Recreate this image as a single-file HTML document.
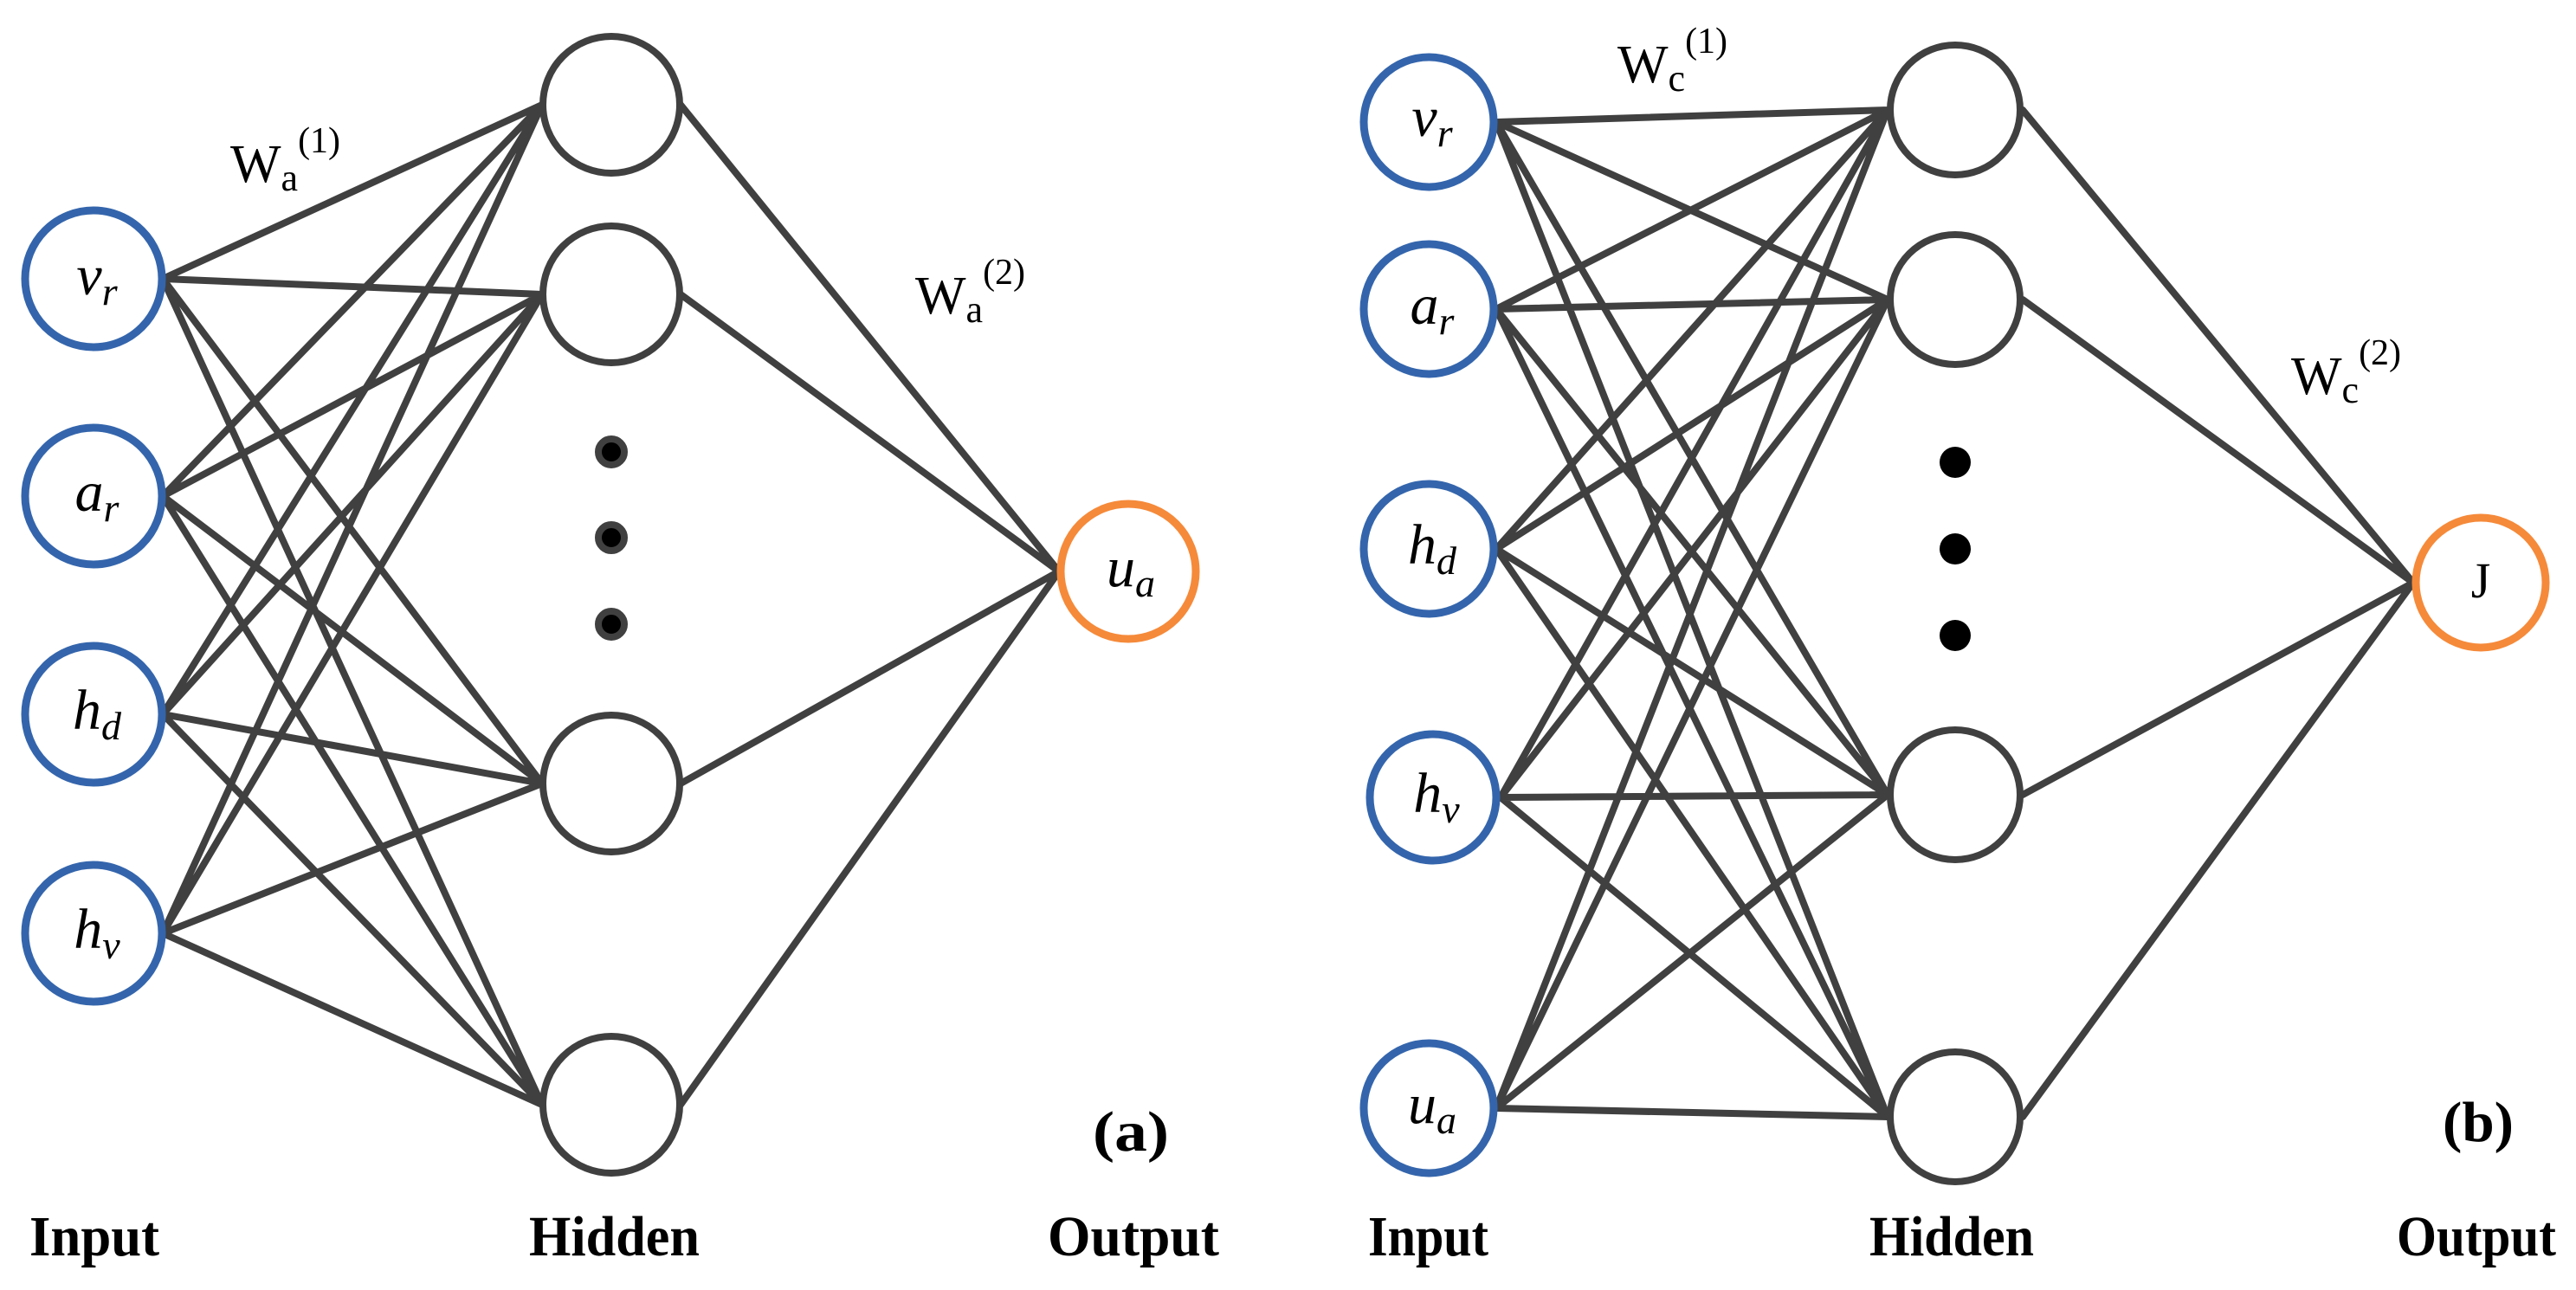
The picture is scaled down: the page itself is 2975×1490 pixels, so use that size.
<!DOCTYPE html>
<html><head><meta charset="utf-8"><style>
html,body{margin:0;padding:0;background:#fff;}
svg{display:block;}
</style></head><body>
<svg width="2975" height="1490" viewBox="0 0 2975 1490" xmlns="http://www.w3.org/2000/svg" font-family="'Liberation Serif', 'Times New Roman', 'DejaVu Serif', serif">
<g stroke="#404040" stroke-width="8" stroke-linecap="round" fill="none">
<path d="M188 322L626 121M188 322L626 340M188 322L626 905M188 322L626 1276
M188 573L626 121M188 573L626 340M188 573L626 905M188 573L626 1276
M188 825L626 121M188 825L626 340M188 825L626 905M188 825L626 1276
M188 1078L626 121M188 1078L626 340M188 1078L626 905M188 1078L626 1276"/>
<path d="M786 121L1223 660M786 340L1223 660M786 905L1223 660M786 1276L1223 660"/>
<path d="M1728 141L2180 127M1728 141L2180 346M1728 141L2180 918M1728 141L2180 1290
M1728 357L2180 127M1728 357L2180 346M1728 357L2180 918M1728 357L2180 1290
M1728 634L2180 127M1728 634L2180 346M1728 634L2180 918M1728 634L2180 1290
M1733 921L2180 127M1733 921L2180 346M1733 921L2180 918M1733 921L2180 1290
M1728 1280L2180 127M1728 1280L2180 346M1728 1280L2180 918M1728 1280L2180 1290"/>
<path d="M2336 127L2787 673M2336 346L2787 673M2336 918L2787 673M2336 1290L2787 673"/>
</g>
<g fill="#fff" stroke-width="9">
<circle cx="108" cy="322" r="79" stroke="#3465ac"/>
<circle cx="108" cy="573" r="79" stroke="#3465ac"/>
<circle cx="108" cy="825" r="79" stroke="#3465ac"/>
<circle cx="108" cy="1078" r="79" stroke="#3465ac"/>
<circle cx="706" cy="121" r="79" stroke="#404040" stroke-width="8"/>
<circle cx="706" cy="340" r="79" stroke="#404040" stroke-width="8"/>
<circle cx="706" cy="905" r="79" stroke="#404040" stroke-width="8"/>
<circle cx="706" cy="1276" r="79" stroke="#404040" stroke-width="8"/>
<circle cx="1303" cy="660" r="78" stroke="#f58a3a"/>
</g>
<g fill="#000" stroke="#404040" stroke-width="8">
<circle cx="706" cy="522" r="15"/><circle cx="706" cy="621" r="15"/><circle cx="706" cy="721" r="15"/>
</g>
<g fill="#fff" stroke-width="9">
<circle cx="1650" cy="141" r="75" stroke="#3465ac"/>
<circle cx="1650" cy="357" r="75" stroke="#3465ac"/>
<circle cx="1650" cy="634" r="75" stroke="#3465ac"/>
<circle cx="1655" cy="921" r="73" stroke="#3465ac"/>
<circle cx="1650" cy="1280" r="75" stroke="#3465ac"/>
<circle cx="2258" cy="127" r="75" stroke="#404040" stroke-width="8"/>
<circle cx="2258" cy="346" r="75" stroke="#404040" stroke-width="8"/>
<circle cx="2258" cy="918" r="75" stroke="#404040" stroke-width="8"/>
<circle cx="2258" cy="1290" r="75" stroke="#404040" stroke-width="8"/>
<circle cx="2865" cy="673" r="75" stroke="#f58a3a"/>
</g>
<g fill="#000">
<circle cx="2258" cy="534" r="18"/><circle cx="2258" cy="634" r="18"/><circle cx="2258" cy="734" r="18"/>
</g>
<g font-style="italic" font-size="66" text-anchor="middle" fill="#000">
<text x="112" y="340">v<tspan font-size="46" dy="12">r</tspan></text>
<text x="112" y="590">a<tspan font-size="46" dy="12">r</tspan></text>
<text x="112" y="842">h<tspan font-size="46" dy="12">d</tspan></text>
<text x="112" y="1095">h<tspan font-size="46" dy="12">v</tspan></text>
<text x="1306" y="677">u<tspan font-size="46" dy="12">a</tspan></text>
<text x="1654" y="157">v<tspan font-size="46" dy="12">r</tspan></text>
<text x="1654" y="374">a<tspan font-size="46" dy="12">r</tspan></text>
<text x="1654" y="651">h<tspan font-size="46" dy="12">d</tspan></text>
<text x="1659" y="938">h<tspan font-size="46" dy="12">v</tspan></text>
<text x="1654" y="1297">u<tspan font-size="46" dy="12">a</tspan></text>
</g>
<text x="2865" y="690" font-size="58" text-anchor="middle" fill="#000">J</text>
<g font-size="62" fill="#000">
<text x="266" y="210">W<tspan font-size="44" dy="10">a</tspan><tspan font-size="42" dy="-44">(1)</tspan></text>
<text x="1057" y="362">W<tspan font-size="44" dy="10">a</tspan><tspan font-size="42" dy="-44">(2)</tspan></text>
<text x="1868" y="95">W<tspan font-size="44" dy="10">c</tspan><tspan font-size="42" dy="-44">(1)</tspan></text>
<text x="2646" y="455">W<tspan font-size="44" dy="10">c</tspan><tspan font-size="42" dy="-44">(2)</tspan></text>
</g>
<g font-weight="bold" font-size="66" fill="#000" lengthAdjust="spacingAndGlyphs">
<text x="1262" y="1329" textLength="88" lengthAdjust="spacingAndGlyphs">(a)</text>
<text x="2821" y="1318" textLength="82" lengthAdjust="spacingAndGlyphs">(b)</text>
<text x="34" y="1450" textLength="150" lengthAdjust="spacingAndGlyphs">Input</text>
<text x="611" y="1450" textLength="197" lengthAdjust="spacingAndGlyphs">Hidden</text>
<text x="1210" y="1450" textLength="198" lengthAdjust="spacingAndGlyphs">Output</text>
<text x="1580" y="1450" textLength="139" lengthAdjust="spacingAndGlyphs">Input</text>
<text x="2159" y="1450" textLength="190" lengthAdjust="spacingAndGlyphs">Hidden</text>
<text x="2768" y="1450" textLength="184" lengthAdjust="spacingAndGlyphs">Output</text>
</g>
</svg>
</body></html>
